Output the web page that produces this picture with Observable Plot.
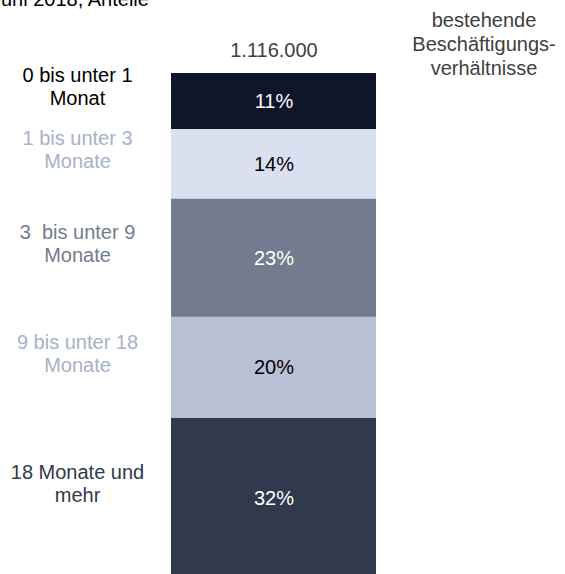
<!DOCTYPE html>
<html>
<head>
<meta charset="utf-8">
<script src="https://cdn.jsdelivr.net/npm/d3@7"></script>
<script src="https://cdn.jsdelivr.net/npm/@observablehq/plot@0.6"></script>
<style>
  html, body { margin: 0; padding: 0; background: #fff; overflow: hidden; }
  #wrap { position: relative; width: 565px; height: 574px; overflow: hidden; }
  #title { position: absolute; top: -12px; left: -9px; font: 20px "Liberation Sans", Arial, sans-serif; color: #000; white-space: nowrap; line-height: 1.15; z-index: 2; }
  #chart { position: absolute; top: 0; left: 0; }
</style>
</head>
<body>
<div id="wrap">
  <div id="chart"></div>
  <div id="title">Juni 2018, Anteile</div>
</div>
<script>
// ---- data ----
const groupName = "bestehende\nBeschäftigungs-\nverhältnisse";
const total = 1116000;
const categories = [
  "0 bis unter 1\nMonat",
  "1 bis unter 3\nMonate",
  "3\u00a0 bis unter 9\nMonate",
  "9 bis unter 18\nMonate",
  "18 Monate und\nmehr"
];
const shares = [11.1, 13.8, 23.4, 20.0, 31.7];

// ---- styles ----
const segmentColors = ["#10162a", "#dae0f0", "#737b8e", "#bbc1d4", "#31394d"];
const valueColors   = ["#ffffff", "#000000", "#ffffff", "#000000", "#ffffff"];
const labelColors   = ["#000000", "#a7b1c9", "#737b8e", "#a7b1c9", "#31394d"];

const data = categories.map((c, i) => ({cat: c, share: shares[i], group: groupName}));
const de = d3.formatLocale({decimal: ",", thousands: ".", grouping: [3], currency: ["", " €"]});
const fmtTotal = de.format(",");
const font = "'Liberation Sans', Arial, sans-serif";

const chart = Plot.plot({
  width: 565,
  height: 578,
  marginTop: 73,
  marginBottom: 0,
  marginLeft: 171,
  marginRight: 189,
  x: {domain: [groupName], axis: null, padding: 0},
  y: {domain: [0, 100], reverse: true, axis: null},
  color: {type: "identity"},
  style: {fontFamily: font, fontSize: "20px", background: "white", overflow: "visible"},
  marks: [
    Plot.barY(data, Plot.stackY({
      x: "group", y: "share", order: null,
      fill: (d, i) => segmentColors[i]
    })),
    Plot.text(data, Plot.stackY({
      x: "group", y: "share", order: null,
      text: d => Math.round(d.share) + "%",
      fill: (d, i) => valueColors[i],
      fontSize: 20
    })),
    Plot.text(data, Plot.stackY({
      x: "group", y: "share", order: null,
      text: "cat",
      fill: (d, i) => labelColors[i],
      fontSize: 20, lineHeight: 1.15,
      dx: -196.5, dy: -15
    })),
    Plot.text([total], {
      x: () => groupName, frameAnchor: "top", lineAnchor: "middle",
      text: d => fmtTotal(d),
      fill: "#404040", fontSize: 20, dy: -23
    }),
    Plot.text([groupName], {
      x: d => d, frameAnchor: "top", lineAnchor: "middle",
      text: d => d,
      fill: "#404040", fontSize: 20, lineHeight: 1.2,
      dx: 210, dy: -30
    })
  ]
});
document.getElementById("chart").appendChild(chart);
</script>
</body>
</html>
